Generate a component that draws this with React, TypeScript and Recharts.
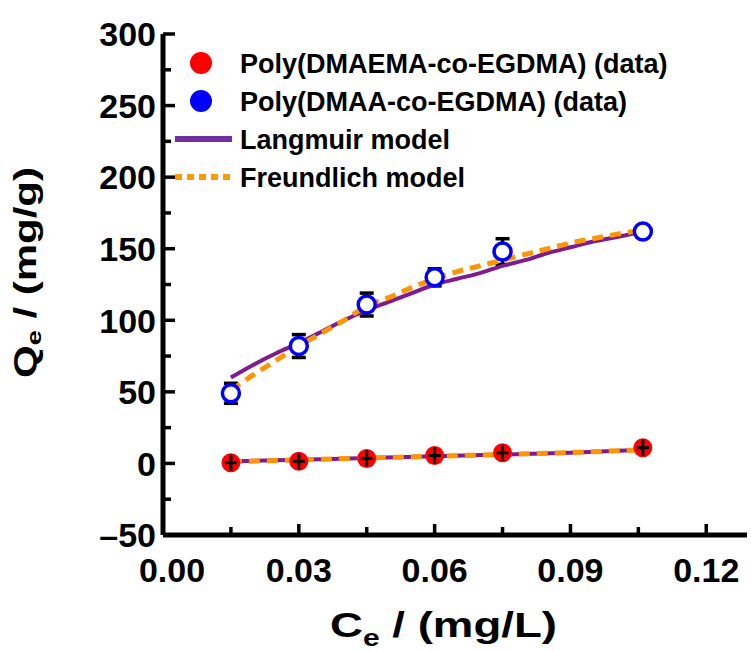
import React from 'react';
import { ComposedChart, Scatter, Line, XAxis, YAxis, ErrorBar, Legend } from 'recharts';

// measured points (Ce in mg/L, Qe in mg/g)
const ceData = [0.015, 0.03, 0.045, 0.06, 0.075, 0.106];
const dmaemaQe = [0.5, 1.5, 3.5, 5.5, 7.4, 11];
const dmaemaErr = [3, 3, 3, 3, 3, 3];
const dmaaQe = [49, 82, 111, 130, 148, 162];
const dmaaErr = [7, 8, 8, 6, 9, 3];

// fitted curves
const fitCe = [0.015, 0.02, 0.025, 0.03, 0.035, 0.04, 0.045, 0.05, 0.055, 0.06, 0.065, 0.07, 0.075, 0.08, 0.085, 0.09, 0.095, 0.1, 0.106];
const langmuirDmaa = [60, 69, 77, 84, 92, 100, 107, 113, 119, 125, 129, 133, 138, 142, 147, 151, 155, 158, 162];
const freundlichDmaa = [51, 62, 72, 82, 91, 100, 110, 116, 123, 129, 134, 138, 142, 146, 150, 154, 157, 160, 163];
const fitCeLow = [0.015, 0.03, 0.045, 0.06, 0.075, 0.09, 0.106];
const langmuirDmaema = [1.5, 2.5, 3.8, 5, 6.2, 7.5, 9.5];
const freundlichDmaema = [1.2, 2.5, 3.8, 5, 6.3, 7.6, 9.6];

const xTicks = [0, 0.015, 0.03, 0.045, 0.06, 0.075, 0.09, 0.105, 0.12];
const xTickLabels = ['0.00', '', '0.03', '', '0.06', '', '0.09', '', '0.12'];
const yTicks = [-50, -25, 0, 25, 50, 75, 100, 125, 150, 175, 200, 225, 250, 275, 300];
const yTickLabels = ['\u201350', '', '0', '', '50', '', '100', '', '150', '', '200', '', '250', '', '300'];

const legendItems = [
  { name: 'Poly(DMAEMA-co-EGDMA)  (data)', color: '#ff0000', kind: 'dot' },
  { name: 'Poly(DMAA-co-EGDMA)  (data)', color: '#0000ff', kind: 'dot' },
  { name: 'Langmuir model', color: '#7030a0', kind: 'line' },
  { name: 'Freundlich model', color: '#ff9900', kind: 'dash' },
];

const FONT = '"Liberation Sans", Arial, sans-serif';
const PURPLE = '#7f1a8f';
const ORANGE = '#ff9500';

const dmaemaPoints = ceData.map((x, i) => ({ x, y: dmaemaQe[i], err: dmaemaErr[i] }));
const dmaaPoints = ceData.map((x, i) => ({ x, y: dmaaQe[i], err: dmaaErr[i] }));
const langmuirHigh = fitCe.map((x, i) => ({ x, y: langmuirDmaa[i] }));
const freundlichHigh = fitCe.map((x, i) => ({ x, y: freundlichDmaa[i] }));
const langmuirLow = fitCeLow.map((x, i) => ({ x, y: langmuirDmaema[i] }));
const freundlichLow = fitCeLow.map((x, i) => ({ x, y: freundlichDmaema[i] }));

function YTick(props: any) {
  const { x, y, payload } = props;
  const i = yTicks.indexOf(payload.value);
  const label = yTickLabels[i] || '';
  const major = label !== '';
  return (
    <g>
      <line x1={x} x2={x + (major ? 12 : 8)} y1={y} y2={y} stroke="#000" strokeWidth={3.5} />
      {major && (
        <text x={x - 7} y={y} dy="0.36em" textAnchor="end" fontFamily={FONT} fontWeight="bold" fontSize={34} fill="#000">
          {label}
        </text>
      )}
    </g>
  );
}

function XTick(props: any) {
  const { x, y, payload } = props;
  const i = xTicks.indexOf(payload.value);
  const label = xTickLabels[i] || '';
  const major = label !== '';
  return (
    <g>
      <line x1={x} x2={x} y1={y} y2={y - (major ? 11 : 8)} stroke="#000" strokeWidth={3.5} />
      {major && (
        <text x={x + (i === 0 ? 9 : 0)} y={y + 47} textAnchor="middle" fontFamily={FONT} fontWeight="bold" fontSize={34} fill="#000">
          {label}
        </text>
      )}
    </g>
  );
}

const RedDot = (props: any) => {
  const { cx, cy } = props;
  return (
    <g>
      <circle cx={cx} cy={cy} r={9.5} fill="#ff0000" />
      <line x1={cx - 6} x2={cx + 6} y1={cy} y2={cy} stroke="#000" strokeWidth={3} />
      <line x1={cx} x2={cx} y1={cy - 8} y2={cy + 8} stroke="#000" strokeWidth={3} />
    </g>
  );
};

const BlueRing = (props: any) => {
  const { cx, cy } = props;
  return <circle cx={cx} cy={cy} r={8.5} fill="#fff" stroke="#0000ff" strokeWidth={3.5} />;
};

function LegendBox() {
  return (
    <svg width={590} height={170}>
      {legendItems.map((item, i) => {
        const cy = 23 + i * 38;
        return (
          <g key={item.name}>
            {item.kind === 'dot' && <circle cx={41} cy={cy} r={11} fill={item.color} />}
            {item.kind === 'line' && <line x1={15} x2={72} y1={cy} y2={cy} stroke={item.color} strokeWidth={6} />}
            {item.kind === 'dash' && (
              <line x1={15} x2={72} y1={cy} y2={cy} stroke={item.color} strokeWidth={6} strokeDasharray="7 5" />
            )}
            <text x={80} y={cy} dy="0.36em" fontFamily={FONT} fontWeight="bold" fontSize={27} fill="#000">
              {item.name}
            </text>
          </g>
        );
      })}
    </svg>
  );
}

export default function App() {
  return (
    <div style={{ position: 'absolute', left: 0, top: 0, width: 751, height: 651, background: '#fff' }}>
      <ComposedChart width={751} height={651} margin={{ top: 34, right: 4, left: 0, bottom: 0 }}>
        <XAxis
          xAxisId={0}
          type="number"
          dataKey="x"
          domain={[0, 0.129]}
          ticks={xTicks}
          tick={<XTick />}
          tickSize={0}
          tickMargin={0}
          tickLine={false}
          height={116}
          axisLine={{ stroke: '#000', strokeWidth: 5 }}
          allowDataOverflow
        />
        <XAxis
          xAxisId="top"
          orientation="top"
          type="number"
          domain={[0, 0.129]}
          tick={false}
          tickLine={false}
          height={0}
          axisLine={{ stroke: '#000', strokeWidth: 5 }}
        />
        <YAxis
          yAxisId={0}
          type="number"
          dataKey="y"
          domain={[-50, 300]}
          ticks={yTicks}
          tick={<YTick />}
          tickSize={0}
          tickMargin={0}
          tickLine={false}
          width={163}
          axisLine={{ stroke: '#000', strokeWidth: 5 }}
          allowDataOverflow
        />
        <YAxis
          yAxisId="right"
          orientation="right"
          type="number"
          domain={[-50, 300]}
          tick={false}
          tickLine={false}
          width={0}
          axisLine={{ stroke: '#000', strokeWidth: 5 }}
        />
        <Legend
          layout="vertical"
          align="center"
          verticalAlign="middle"
          width={590}
          wrapperStyle={{ left: 160, top: 40 }}
          content={() => <LegendBox />}
        />
        <Scatter name="Poly(DMAEMA-co-EGDMA)" data={dmaemaPoints} shape={RedDot} isAnimationActive={false}>
          <ErrorBar dataKey="err" direction="y" width={5} stroke="#000" strokeWidth={3} />
        </Scatter>
        <Scatter name="Poly(DMAA-co-EGDMA)" data={dmaaPoints} shape={BlueRing} isAnimationActive={false}>
          <ErrorBar dataKey="err" direction="y" width={7} stroke="#000" strokeWidth={3.5} />
        </Scatter>
        <Line data={langmuirHigh} dataKey="y" type="monotone" stroke={PURPLE} strokeWidth={4} dot={false} activeDot={false} isAnimationActive={false} />
        <Line data={langmuirLow} dataKey="y" type="monotone" stroke={PURPLE} strokeWidth={4} dot={false} activeDot={false} isAnimationActive={false} />
        <Line data={freundlichHigh} dataKey="y" type="monotone" stroke={ORANGE} strokeWidth={5} strokeDasharray="11 7" dot={false} activeDot={false} isAnimationActive={false} />
        <Line data={freundlichLow} dataKey="y" type="monotone" stroke={ORANGE} strokeWidth={5} strokeDasharray="11 7" dot={false} activeDot={false} isAnimationActive={false} />
      </ComposedChart>
      <svg width={751} height={651} style={{ position: 'absolute', left: 0, top: 0, pointerEvents: 'none' }}>
        <text
          x={36}
          y={378}
          transform="rotate(-90, 36, 378)"
          fontFamily={FONT}
          fontWeight="bold"
          fontSize={31}
          fill="#000"
          textLength={211}
          lengthAdjust="spacingAndGlyphs"
        >
          Q<tspan fontSize={20} dy={5}>e</tspan>
          <tspan dy={-5}> / (mg/g)</tspan>
        </text>
        <text
          x={330}
          y={637}
          fontFamily={FONT}
          fontWeight="bold"
          fontSize={35}
          fill="#000"
          textLength={227}
          lengthAdjust="spacingAndGlyphs"
        >
          C<tspan fontSize={23} dy={9}>e</tspan>
          <tspan dy={-9}> / (mg/L)</tspan>
        </text>
      </svg>
    </div>
  );
}
